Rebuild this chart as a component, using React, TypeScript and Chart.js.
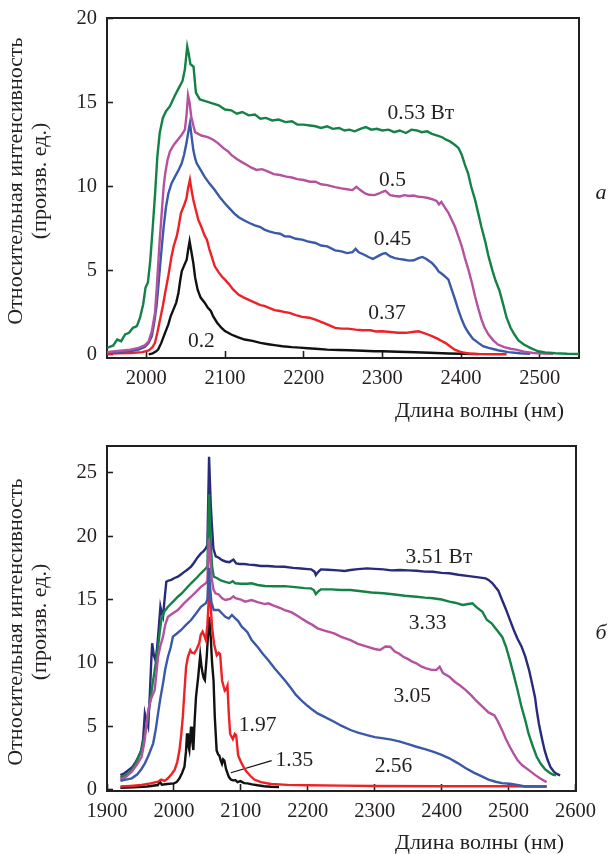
import React, { useEffect, useRef } from 'react';
import { Chart, registerables } from 'chart.js';

Chart.register(...registerables);

type Pt = [number, number];

// ---------------- DATA: panel (a) ----------------
const topXTicks = [2000, 2100, 2200, 2300, 2400, 2500];
const topYTicks = [0, 5, 10, 15, 20];

const topGreen053: Pt[] = [[1950,0.4],[1958,0.55],[1963,0.9],[1968,0.8],[1973,1.2],[1978,1.3],[1983,1.6],[1988,1.7],[1992,2.2],[1996,3.0],[1999,4.0],[2002,4.3],[2005,5.6],[2008,7.5],[2011,9.5],[2014,11.8],[2017,13.2],[2021,14.1],[2025,14.5],[2030,14.8],[2036,15.4],[2042,15.95],[2046,16.3],[2049,17.0],[2052,18.35],[2054,17.9],[2056,17.3],[2060,17.15],[2063,15.6],[2068,15.2],[2075,15.1],[2085,14.95],[2092,14.85],[2100,14.6],[2108,14.55],[2115,14.35],[2122,14.45],[2130,14.25],[2138,14.3],[2145,14.05],[2152,14.1],[2160,13.95],[2168,14.0],[2177,13.85],[2185,13.9],[2192,13.7],[2200,13.7],[2208,13.65],[2215,13.6],[2222,13.5],[2230,13.6],[2237,13.45],[2245,13.5],[2252,13.35],[2258,13.4],[2265,13.3],[2272,13.45],[2279,13.55],[2286,13.4],[2293,13.45],[2300,13.35],[2308,13.4],[2315,13.25],[2322,13.35],[2330,13.2],[2337,13.4],[2344,13.35],[2350,13.25],[2357,13.3],[2363,13.15],[2370,13.05],[2376,12.95],[2381,12.8],[2386,12.7],[2392,12.5],[2397,12.3],[2401,11.9],[2405,11.3],[2409,10.8],[2413,10.0],[2418,9.2],[2422,8.4],[2426,7.6],[2431,6.7],[2435,5.85],[2440,5.0],[2444,4.4],[2449,3.8],[2453,3.1],[2458,2.2],[2463,1.6],[2468,1.2],[2473,0.85],[2480,0.6],[2488,0.4],[2498,0.2],[2507,0.13],[2520,0.08],[2535,0.05],[2550,0.04]];

const topMagenta05: Pt[] = [[1950,0.15],[1960,0.2],[1970,0.25],[1980,0.3],[1990,0.4],[1998,0.55],[2003,0.8],[2007,1.4],[2011,2.5],[2013,3.8],[2015,5.3],[2017,6.8],[2019.5,8.4],[2022,10.0],[2024,10.8],[2027,11.6],[2030,12.1],[2035,12.5],[2040,12.8],[2045,13.1],[2049,13.4],[2051,14.2],[2053,15.45],[2055,15.0],[2057,14.2],[2060,13.6],[2062,13.25],[2066,13.15],[2070,13.05],[2078,12.95],[2085,12.8],[2091,12.6],[2098,12.3],[2104,12.1],[2108,11.9],[2115,11.65],[2122,11.45],[2128,11.3],[2133,11.15],[2140,11.0],[2147,11.05],[2155,10.9],[2162,10.75],[2170,10.7],[2178,10.6],[2185,10.55],[2192,10.45],[2200,10.4],[2208,10.3],[2215,10.3],[2222,10.15],[2230,10.1],[2240,9.98],[2248,9.9],[2255,9.85],[2262,9.8],[2267,10.0],[2272,9.8],[2278,9.6],[2283,9.52],[2290,9.5],[2296,9.6],[2300,9.7],[2304,9.75],[2310,9.5],[2316,9.45],[2322,9.42],[2328,9.5],[2334,9.45],[2340,9.48],[2346,9.4],[2352,9.38],[2358,9.33],[2364,9.25],[2369,9.15],[2372,8.95],[2375,9.1],[2379,8.8],[2384,8.45],[2388,8.05],[2392.5,7.6],[2397,7.0],[2401,6.45],[2405,5.75],[2409.5,5.05],[2414,4.25],[2418,3.45],[2422,2.75],[2426,2.1],[2430,1.6],[2435,1.2],[2441,0.85],[2447,0.6],[2455,0.45],[2463,0.35],[2470,0.3],[2480,0.18],[2492,0.1],[2505,0.06],[2517,0.05]];

const topBlue045: Pt[] = [[1950,0.1],[1960,0.15],[1970,0.18],[1980,0.22],[1990,0.3],[1998,0.45],[2003,0.7],[2007,1.1],[2010,1.9],[2013,2.9],[2015.5,4.2],[2017.5,5.3],[2020,6.6],[2022,7.6],[2025,8.8],[2028,9.6],[2032,10.2],[2036.5,10.6],[2041,11.0],[2045,11.4],[2048,11.9],[2051,12.6],[2053.5,13.3],[2055.5,13.8],[2057.5,13.0],[2059.7,12.2],[2062,11.7],[2064,11.4],[2069,11.0],[2074,10.6],[2080,10.2],[2087,9.8],[2093,9.4],[2100,9.0],[2106,8.7],[2112,8.4],[2117,8.2],[2124,8.0],[2131,7.84],[2138,7.7],[2145,7.6],[2150,7.45],[2156,7.34],[2163,7.25],[2170,7.2],[2176,7.05],[2182,7.04],[2190,6.9],[2198,6.85],[2205,6.75],[2215,6.65],[2222,6.5],[2230,6.45],[2240,6.21],[2248,6.15],[2255,6.05],[2262,6.1],[2266,6.3],[2270,6.1],[2277,5.95],[2283,5.8],[2288,5.7],[2294,5.85],[2300,6.0],[2304,6.05],[2310,5.85],[2316,5.75],[2321,5.7],[2328,5.65],[2334,5.6],[2340,5.62],[2346,5.75],[2351,5.82],[2356,5.7],[2363,5.46],[2368,5.2],[2371.5,4.96],[2376,4.8],[2381,4.6],[2384,4.47],[2388,3.9],[2392.5,3.28],[2397,2.6],[2401,2.09],[2405,1.65],[2409.5,1.3],[2415,0.95],[2422,0.7],[2428,0.5],[2435,0.4],[2447,0.26],[2460,0.15],[2475,0.08],[2488,0.05]];

const topRed037: Pt[] = [[1950,0.05],[1965,0.08],[1980,0.1],[1995,0.15],[2003,0.25],[2008,0.45],[2011,0.7],[2014,1.3],[2017.5,2.1],[2021,2.9],[2024,3.7],[2028,4.7],[2032,5.85],[2035,6.5],[2038.6,7.04],[2041,7.6],[2044,8.43],[2048,8.9],[2051,9.3],[2053,9.9],[2055.4,10.42],[2057.5,9.8],[2059.7,9.23],[2063,8.6],[2066,8.04],[2070,7.6],[2074,7.1],[2077,6.85],[2080,6.3],[2084,5.7],[2087,5.26],[2092,4.9],[2096,4.65],[2100,4.47],[2105,4.2],[2110,3.9],[2117,3.58],[2124,3.4],[2131,3.25],[2138,3.1],[2145,2.95],[2150,2.9],[2156,2.78],[2163,2.65],[2170,2.6],[2175,2.55],[2182,2.49],[2190,2.35],[2198,2.25],[2207,2.2],[2215,2.09],[2222,1.95],[2230,1.8],[2240,1.59],[2248,1.55],[2256,1.55],[2266,1.49],[2275,1.45],[2285,1.45],[2292,1.38],[2300,1.39],[2310,1.35],[2320,1.3],[2330,1.3],[2338,1.35],[2346,1.39],[2352,1.3],[2358,1.2],[2363,1.1],[2370,0.95],[2376,0.8],[2380,0.7],[2386,0.5],[2392,0.3],[2400,0.15],[2410,0.07],[2425,0.03],[2440,0.02],[2458,0.02]];

const topBlack02: Pt[] = [[2003,0.02],[2008,0.08],[2012,0.18],[2015,0.3],[2019,0.7],[2023.8,1.3],[2028,1.8],[2031,2.3],[2034.4,2.68],[2038,3.1],[2040.8,3.67],[2043,4.4],[2045,4.96],[2048,5.3],[2051.3,5.66],[2053,6.2],[2055,6.75],[2057,6.2],[2059.7,5.46],[2062,4.6],[2065.2,3.87],[2069,3.4],[2074.4,3.08],[2078,2.8],[2082,2.6],[2085,2.28],[2090,1.9],[2095.6,1.59],[2100,1.4],[2108,1.2],[2116,1.05],[2125,0.9],[2135,0.82],[2145,0.7],[2155,0.62],[2165,0.55],[2173,0.5],[2185,0.45],[2195,0.42],[2205,0.38],[2215,0.35],[2230,0.3],[2245,0.28],[2258,0.26],[2275,0.23],[2290,0.2],[2300,0.2],[2320,0.17],[2342,0.14],[2360,0.11],[2384,0.07],[2400,0.05],[2423,0.03]];

const topNotes = [
  { text: '0.53 Вт', x: 2349, y: 14.4 },
  { text: '0.5', x: 2313, y: 10.36 },
  { text: '0.45', x: 2313, y: 6.85 },
  { text: '0.37', x: 2306, y: 2.44 },
  { text: '0.2', x: 2070, y: 0.8 },
];

// ---------------- DATA: panel (б) ----------------
const botXTicks = [1900, 2000, 2100, 2200, 2300, 2400, 2500, 2600];
const botYTicks = [0, 5, 10, 15, 20, 25];

const botNavy351: Pt[] = [[1920,1.15],[1926,1.3],[1932,1.55],[1938,1.8],[1943,2.2],[1947,2.6],[1951,3.1],[1954,4.0],[1956.5,6.0],[1959,5.4],[1961.5,4.97],[1964,7.5],[1966,10.0],[1967.5,11.55],[1970,10.6],[1972.4,10.2],[1974.5,11.0],[1976.3,12.07],[1978,13.2],[1979.8,14.43],[1981.5,14.0],[1983.7,13.64],[1986,15.0],[1988.6,16.4],[1992,16.5],[1996,16.55],[2001,16.7],[2005.9,16.8],[2011,17.0],[2016,17.2],[2020,17.35],[2025.6,17.6],[2030,17.9],[2035,18.3],[2040.3,18.64],[2044,18.8],[2047.7,19.04],[2050,19.3],[2052.5,26.26],[2055,22.5],[2056.6,21.0],[2059,19.0],[2062.5,18.4],[2067,18.3],[2072,18.1],[2077,18.0],[2083,17.95],[2089,18.15],[2093,17.85],[2098,17.8],[2105,17.8],[2112,17.75],[2120,17.72],[2130,17.65],[2140,17.64],[2150,17.6],[2165,17.59],[2178,17.5],[2190,17.45],[2200,17.4],[2205,17.38],[2210,17.2],[2212,16.93],[2215,17.15],[2219.5,17.38],[2230,17.35],[2245,17.3],[2255,17.25],[2263.8,17.33],[2275,17.4],[2288.5,17.46],[2300,17.42],[2313,17.38],[2325,17.3],[2337.7,17.33],[2350,17.3],[2362.3,17.27],[2375,17.2],[2387,17.19],[2400,17.1],[2411.5,17.07],[2425,16.95],[2441,16.85],[2455,16.75],[2465.7,16.67],[2470,16.55],[2475.6,16.3],[2480,16.0],[2484.7,15.7],[2490,15.0],[2496.3,14.2],[2502,13.4],[2507.8,12.6],[2513,11.95],[2519.3,11.3],[2525,10.5],[2530.8,9.4],[2535,8.4],[2539.5,7.3],[2542,6.3],[2545.3,5.2],[2550,4.0],[2553.9,3.1],[2558,2.4],[2562.5,1.8],[2568,1.4],[2572,1.25],[2577,1.13]];

const botGreen333: Pt[] = [[1920,0.95],[1928,1.15],[1937,1.55],[1944,2.2],[1951.7,3.13],[1956,4.2],[1960,5.4],[1964,6.8],[1968,8.3],[1971.3,9.44],[1974,10.4],[1976.3,11.28],[1979,12.5],[1981.2,13.38],[1985,14.0],[1991.1,14.43],[1998,14.8],[2005.9,15.22],[2012,15.5],[2018,15.85],[2025.6,16.28],[2032,16.6],[2040.3,17.07],[2044,17.25],[2047.7,17.46],[2050,17.6],[2052.5,23.3],[2055,19.5],[2057,17.6],[2059.5,16.8],[2064,16.7],[2070,16.5],[2076.8,16.4],[2083,16.3],[2088,16.45],[2091.6,16.28],[2100,16.25],[2110,16.25],[2116,16.28],[2125,16.15],[2135.9,16.07],[2150,16.05],[2165.4,16.06],[2185,15.96],[2195,15.9],[2204.7,15.88],[2209,15.75],[2212,15.43],[2215,15.6],[2219.5,15.8],[2235,15.8],[2250,15.75],[2263.8,15.75],[2280,15.65],[2295,15.55],[2313,15.49],[2330,15.4],[2345,15.3],[2362.3,15.22],[2375,15.15],[2387,15.1],[2400,15.0],[2411.5,14.83],[2420,14.75],[2431.3,14.57],[2440,14.65],[2446,14.7],[2452,14.4],[2460.9,14.04],[2467.4,13.4],[2475,13.1],[2478.9,12.84],[2484,12.5],[2490.5,12.05],[2496,11.3],[2502,10.2],[2508,9.0],[2513.5,7.84],[2519,6.6],[2525,5.47],[2530,4.4],[2536.6,3.37],[2542,2.6],[2548.1,2.05],[2554,1.65],[2559.7,1.4],[2566,1.2],[2571,1.13]];

const botMagenta305: Pt[] = [[1920,0.8],[1928,1.0],[1937,1.42],[1945,2.0],[1951.7,2.6],[1956,3.8],[1961.6,6.3],[1966,7.2],[1971.3,7.86],[1974,9.3],[1976.3,10.49],[1980,11.4],[1983.7,12.07],[1987,13.0],[1991.1,13.64],[1998,13.9],[2005.9,14.17],[2015,14.7],[2025.6,15.22],[2033,15.6],[2040.3,16.0],[2047.7,16.28],[2050,16.5],[2052,19.8],[2054,18.5],[2056,16.8],[2059,15.8],[2062,15.49],[2066.9,15.4],[2072,15.1],[2076.8,14.96],[2084,15.05],[2089,15.25],[2092,15.1],[2100,15.0],[2106.4,14.83],[2116,14.96],[2125,14.8],[2135.9,14.64],[2140.8,14.7],[2150,14.5],[2158,14.35],[2165.4,14.17],[2175.2,14.0],[2185,13.7],[2190,13.52],[2200,13.2],[2207,13.0],[2214.6,12.73],[2225,12.55],[2239.3,12.33],[2250,12.05],[2263.8,11.8],[2275,11.5],[2288.5,11.28],[2300,11.1],[2308,11.02],[2316,11.3],[2323,11.28],[2330,10.9],[2336,10.75],[2342.7,10.49],[2350,10.3],[2356,10.1],[2362.3,9.97],[2370,9.7],[2377,9.57],[2385,9.45],[2391.9,9.44],[2397,9.7],[2402,9.2],[2411.5,8.91],[2420,8.5],[2428,8.2],[2436,7.86],[2445,7.4],[2452,7.0],[2460.9,6.55],[2470,6.1],[2478.9,5.87],[2484,5.4],[2490.5,4.68],[2496,4.0],[2502,3.37],[2508,2.8],[2513.5,2.32],[2520,1.95],[2530.8,1.53],[2540,1.15],[2548,0.87],[2556.8,0.6]];

const botBlue256: Pt[] = [[1920,0.7],[1928,0.8],[1937,0.9],[1945,1.2],[1951,1.6],[1956.6,2.08],[1962,2.7],[1969,3.66],[1973,4.8],[1976.3,6.02],[1980,7.3],[1983.7,8.39],[1987,9.5],[1991.1,10.49],[1995,11.2],[1998.5,12.07],[2004,12.3],[2010.8,12.6],[2018,13.0],[2025.6,13.38],[2033,13.9],[2040.3,14.43],[2047.7,14.7],[2050,15.0],[2052,17.5],[2054,16.0],[2056,14.8],[2059.5,14.17],[2066.9,14.17],[2072,13.9],[2076.8,13.64],[2082,13.5],[2086.6,13.78],[2091.6,13.52],[2096,13.3],[2101.3,12.86],[2106.4,12.6],[2110,12.4],[2116.1,11.8],[2126,11.2],[2133,10.7],[2140.8,10.23],[2150,9.6],[2158,9.1],[2165.4,8.65],[2175,8.0],[2182,7.5],[2190,7.07],[2200,6.6],[2207,6.3],[2214.6,6.02],[2225,5.75],[2239.3,5.36],[2250,5.05],[2263.8,4.71],[2275,4.5],[2288.5,4.31],[2300,4.15],[2313.1,4.05],[2325,3.95],[2337.7,3.79],[2350,3.6],[2362.3,3.39],[2375,3.2],[2387,3.0],[2400,2.75],[2411.5,2.48],[2424,2.1],[2436.2,1.69],[2448,1.35],[2460.9,1.03],[2470,0.8],[2480.5,0.63],[2490,0.52],[2502,0.47],[2515,0.35],[2525,0.26],[2540,0.25],[2556.8,0.25]];

const botRed197: Pt[] = [[1920,0.25],[1935,0.3],[1951.7,0.37],[1965,0.5],[1976.3,0.63],[1981,0.8],[1986,0.7],[1991.1,0.9],[1996,1.2],[2000.9,1.55],[2005,2.2],[2008.3,3.13],[2011,4.4],[2013.3,5.76],[2016,8.0],[2018.2,9.7],[2021,10.5],[2024.5,11.0],[2027,10.8],[2030.4,10.76],[2034,11.1],[2037.8,11.55],[2040,12.2],[2042.8,12.46],[2045,12.2],[2047.7,11.8],[2050,13.0],[2053,16.0],[2055,14.5],[2057,12.8],[2060,11.5],[2064,10.6],[2067,10.8],[2069,10.7],[2072,8.6],[2076,7.8],[2078,7.9],[2080,8.2],[2082,6.0],[2084,4.4],[2088,4.0],[2091,4.4],[2093,4.3],[2096,2.7],[2100,2.2],[2104,1.8],[2108,1.45],[2114,1.1],[2120,0.8],[2130,0.6],[2145,0.45],[2170,0.38],[2200,0.35],[2250,0.32],[2300,0.3],[2400,0.28],[2500,0.27],[2557,0.25]];

const botBlack135: Pt[] = [[1920,0.15],[1940,0.2],[1960,0.25],[1976,0.37],[1979,0.63],[1982,0.4],[1990,0.45],[2000,0.5],[2004,0.6],[2008.3,0.9],[2012,1.3],[2015.7,1.81],[2018,3.0],[2019.6,4.45],[2021,3.6],[2023,3.13],[2025.6,4.97],[2027,4.0],[2029,3.13],[2031,5.5],[2033,7.33],[2036.3,8.91],[2039.3,10.62],[2041,9.8],[2042.8,9.18],[2044.5,8.8],[2046.2,8.65],[2049,10.5],[2052.6,13.64],[2055,12.0],[2057,10.0],[2059.2,8.6],[2061,5.8],[2063.8,3.1],[2066,2.8],[2067.8,2.7],[2070,2.3],[2071.8,2.05],[2073.5,2.4],[2075.3,2.3],[2078,1.6],[2082.2,1.0],[2085,0.8],[2087.9,0.74],[2092,0.75],[2095,0.6],[2099.4,0.68],[2105,0.52],[2110,0.5],[2116.7,0.42],[2125,0.35],[2135,0.28],[2145,0.24],[2157,0.21]];

const botLeader135: Pt[] = [[2085, 1.34], [2146, 2.29]];

const botNotes = [
  { text: '3.51 Вт', x: 2396, y: 18.31 },
  { text: '3.33', x: 2379, y: 13.16 },
  { text: '3.05', x: 2356, y: 7.4 },
  { text: '1.97', x: 2125, y: 5.04 },
  { text: '1.35', x: 2180, y: 2.33 },
  { text: '2.56', x: 2328, y: 1.88 },
];

const X_TITLE = 'Длина волны (нм)';
const Y_TITLE_1 = 'Относительная интенсивность';
const Y_TITLE_2 = '(произв. ед.)';

// ---------------- STYLE ----------------
const FONT = '"Liberation Serif", "Times New Roman", serif';
const INK = '#231f20';
const C_GREEN = '#148246';
const C_MAGENTA = '#b5529f';
const C_BLUE = '#3a59a7';
const C_RED = '#ee2226';
const C_BLACK = '#111111';
const C_NAVY = '#282b7c';

type PanelSpec = {
  width: number;
  height: number;
  xMin: number; xMax: number; yMin: number; yMax: number;
  xTicks: number[]; yTicks: number[];
  series: { data: Pt[]; color: string; width?: number }[];
  notes: { text: string; x: number; y: number }[];
  padTop: number;
  xAxisHeight: number;
  xTitleY: number;
  yTitleY: number;
  tag: string;
  tagY: number;
};

const AXIS_LEFT = 107;
const PLOT_RIGHT = 579;

function makeChart(canvas: HTMLCanvasElement, s: PanelSpec) {
  const textPlugin = {
    id: 'panelTexts',
    afterDraw(chart: any) {
      const ctx = chart.ctx as CanvasRenderingContext2D;
      const xs = chart.scales.x, ys = chart.scales.y;
      ctx.save();
      ctx.fillStyle = INK;
      ctx.textBaseline = 'middle';
      ctx.textAlign = 'center';
      ctx.font = `21.5px ${FONT}`;
      for (const n of s.notes) {
        ctx.fillText(n.text, xs.getPixelForValue(n.x), ys.getPixelForValue(n.y));
      }
      ctx.font = `22px ${FONT}`;
      ctx.textAlign = 'right';
      ctx.fillText(X_TITLE, 564, s.xTitleY);
      ctx.textAlign = 'center';
      ctx.save();
      ctx.translate(16.7, s.yTitleY);
      ctx.rotate(-Math.PI / 2);
      ctx.fillText(Y_TITLE_1, 0, 0);
      ctx.restore();
      ctx.save();
      ctx.translate(40, s.yTitleY);
      ctx.rotate(-Math.PI / 2);
      ctx.fillText(Y_TITLE_2, 0, 0);
      ctx.restore();
      ctx.font = `italic 22px ${FONT}`;
      ctx.fillText(s.tag, 601, s.tagY);
      ctx.restore();
    },
  };

  const xTickFont = { family: FONT, size: 20.5 };
  // tiny line height so the y labels do not push the plot area down
  const yTickFont = { family: FONT, size: 20.5, lineHeight: 0.01 };
  const frame = { display: true, color: INK, width: 2 };

  return new Chart(canvas, {
    type: 'line',
    data: {
      datasets: s.series.map((ser) => ({
        data: ser.data.map(([x, y]) => ({ x, y })),
        borderColor: ser.color,
        borderWidth: ser.width ?? 2.4,
        pointRadius: 0,
        tension: 0,
        fill: false,
      })),
    },
    options: {
      responsive: false,
      animation: false,
      events: [],
      layout: { padding: { left: 0, right: s.width - PLOT_RIGHT, top: s.padTop, bottom: 0 } },
      plugins: { legend: { display: false }, tooltip: { enabled: false }, title: { display: false } },
      scales: {
        x: {
          type: 'linear', position: 'bottom', min: s.xMin, max: s.xMax,
          afterBuildTicks: (sc: any) => { sc.ticks = s.xTicks.map((v) => ({ value: v })); },
          afterFit: (sc: any) => { sc.height = s.xAxisHeight; },
          ticks: { font: xTickFont, color: INK, padding: 15, maxRotation: 0, autoSkip: false, callback: (v: any) => String(v) },
          grid: { drawOnChartArea: false, drawTicks: true, tickLength: -7, tickColor: INK, tickWidth: 1.6 },
          border: frame,
        },
        y: {
          type: 'linear', position: 'left', min: s.yMin, max: s.yMax,
          afterBuildTicks: (sc: any) => { sc.ticks = s.yTicks.map((v) => ({ value: v })); },
          afterFit: (sc: any) => { sc.width = AXIS_LEFT; },
          ticks: { font: yTickFont, color: INK, padding: 16, autoSkip: false, callback: (v: any) => String(v) },
          grid: { drawOnChartArea: false, drawTicks: true, tickLength: -6, tickColor: INK, tickWidth: 1.6 },
          border: frame,
        },
        x2: {
          type: 'linear', position: 'top', min: s.xMin, max: s.xMax,
          afterFit: (sc: any) => { sc.height = 0; },
          ticks: { display: false },
          grid: { drawOnChartArea: false, drawTicks: false },
          border: frame,
        },
        y2: {
          type: 'linear', position: 'right', min: s.yMin, max: s.yMax,
          afterFit: (sc: any) => { sc.width = 0; },
          ticks: { display: false },
          grid: { drawOnChartArea: false, drawTicks: false },
          border: frame,
        },
      },
    } as any,
    plugins: [textPlugin],
  });
}

const topSpec: PanelSpec = {
  width: 611, height: 430,
  xMin: 1950, xMax: 2550, yMin: -0.2, yMax: 20.05,
  xTicks: topXTicks, yTicks: topYTicks,
  series: [
    { data: topGreen053, color: C_GREEN },
    { data: topMagenta05, color: C_MAGENTA },
    { data: topBlue045, color: C_BLUE },
    { data: topRed037, color: C_RED },
    { data: topBlack02, color: C_BLACK },
  ],
  notes: topNotes,
  padTop: 18, xAxisHeight: 72,
  xTitleY: 411, yTitleY: 181, tag: 'а', tagY: 193,
};

const botSpec: PanelSpec = {
  width: 611, height: 424,
  xMin: 1900, xMax: 2600, yMin: -0.1, yMax: 27.1,
  xTicks: botXTicks, yTicks: botYTicks,
  series: [
    { data: botBlue256, color: C_BLUE },
    { data: botMagenta305, color: C_MAGENTA },
    { data: botGreen333, color: C_GREEN },
    { data: botNavy351, color: C_NAVY },
    { data: botRed197, color: C_RED },
    { data: botBlack135, color: C_BLACK },
    { data: botLeader135, color: C_BLACK, width: 1.2 },
  ],
  notes: botNotes,
  padTop: 16, xAxisHeight: 63,
  xTitleY: 413, yTitleY: 192, tag: 'б', tagY: 203,
};

function Panel({ spec, top }: { spec: PanelSpec; top: number }) {
  const ref = useRef<HTMLCanvasElement | null>(null);
  useEffect(() => {
    if (!ref.current) return;
    const chart = makeChart(ref.current, spec);
    return () => chart.destroy();
  }, [spec]);
  return (
    <canvas
      ref={ref}
      width={spec.width}
      height={spec.height}
      style={{ position: 'absolute', left: 0, top, width: spec.width, height: spec.height, display: 'block' }}
    />
  );
}

export default function App() {
  return (
    <div style={{ position: 'absolute', left: 0, top: 0, width: 611, height: 854, background: '#ffffff', overflow: 'hidden' }}>
      <Panel spec={topSpec} top={0} />
      <Panel spec={botSpec} top={430} />
    </div>
  );
}
